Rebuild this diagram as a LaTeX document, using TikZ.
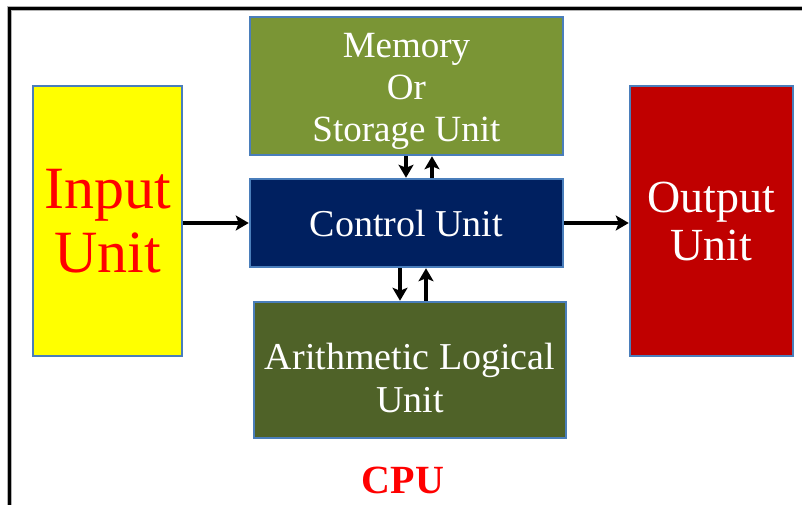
\documentclass[tikz,border=0pt]{standalone}
\usepackage{fontspec}
\setmainfont{Liberation Serif}
\usetikzlibrary{arrows.meta}
\definecolor{bordblue}{HTML}{4A7EBB}
\definecolor{memgreen}{HTML}{7A9535}
\definecolor{ctrlblue}{HTML}{002060}
\definecolor{alugreen}{HTML}{4F6228}
\definecolor{outred}{HTML}{C00000}
\definecolor{txtred}{HTML}{FF0000}
\definecolor{inyellow}{HTML}{FFFF00}
\tikzset{
  unitbox/.style={draw=bordblue, line width=2.5pt, inner sep=0pt, align=center},
  unittext/.style={inner sep=0pt, align=center, text=white},
  arr/.style={line width=3.5pt, -{Stealth[length=13pt,width=15pt,inset=3pt]}},
}
\begin{document}
\begin{tikzpicture}[x=1pt,y=-1pt]
\useasboundingbox (0,0) rectangle (802,504);
% frame
\draw[gray!60, line width=4.5pt] (9.5,510) -- (9.5,8.5) -- (810,8.5);
\draw[black, line width=2.5pt] (9.5,510) -- (9.5,8.5) -- (810,8.5);
% units
\node[unitbox, fill=inyellow, text=txtred, minimum width=149pt, minimum height=270pt,
      font=\fontsize{60}{65}\selectfont] (input) at (107.5,221) {Input\\[-1pt]Unit};
\node[unitbox, fill=memgreen, minimum width=313pt, minimum height=138pt] (memory) at (406.5,86) {};
\node[unittext, font=\fontsize{37}{42}\selectfont] (memtext) at (406.5,91) {Memory\\Or\\Storage Unit};
\node[unitbox, fill=ctrlblue, text=white, minimum width=313pt, minimum height=88pt,
      font=\fontsize{38}{42}\selectfont] (control) at (406.5,223) {Control Unit};
\node[unitbox, fill=alugreen, minimum width=312pt, minimum height=136pt] (alu) at (410,370) {};
\node[unittext, font=\fontsize{38}{43}\selectfont] (alutext) at (410,378) {Arithmetic Logical\\Unit};
\node[unitbox, fill=outred, text=white, minimum width=163pt, minimum height=270pt,
      font=\fontsize{46}{48}\selectfont] (output) at (711.5,221) {Output\\Unit};
\node[text=txtred, font=\bfseries\fontsize{40}{44}\selectfont] (cpu) at (403,480) {CPU};
% connectors
\draw[arr] ([yshift=-2pt]input.east) -- ([yshift=-2pt]input.east -| control.west);
\draw[arr] ([yshift=-2pt]control.east |- input.east) -- ([yshift=-2pt]output.west);
\draw[arr] ([xshift=-0.5pt]memory.south) -- ([xshift=-0.5pt]memory.south |- control.north);
\draw[arr] ([xshift=25.5pt]memory.south |- control.north) -- ([xshift=25.5pt]memory.south);
\draw[arr] ([xshift=-6.5pt]control.south) -- ([xshift=-6.5pt]control.south |- alu.north);
\draw[arr] ([xshift=19.5pt]control.south |- alu.north) -- ([xshift=19.5pt]control.south);
\end{tikzpicture}
\end{document}
